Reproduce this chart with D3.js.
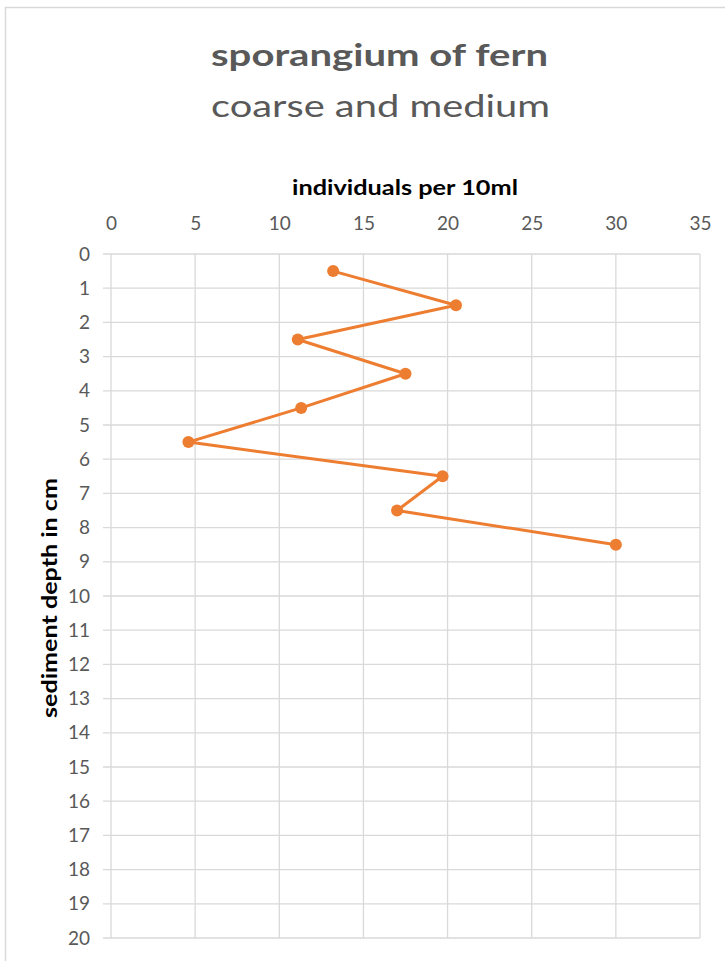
<!DOCTYPE html>
<html>
<head>
<meta charset="utf-8">
<script src="https://cdn.jsdelivr.net/npm/d3@7"></script>
<style>
body { margin: 0; background: #fff; }
svg { display: block; font-family: Lato, "Noto Sans", sans-serif; }
</style>
</head>
<body>
<svg id="chart" width="725" height="961"></svg>
<script>
// data
var depths = [0.5, 1.5, 2.5, 3.5, 4.5, 5.5, 6.5, 7.5, 8.5]
var individuals = [13.2, 20.5, 11.1, 17.5, 11.3, 4.6, 19.7, 17, 30]
var xTicks = [0, 5, 10, 15, 20, 25, 30, 35]
var yTicks = d3.range(0, 21)

var svg = d3.select("#chart")

// outer chart frame
svg.append("rect")
.attr("x", 5.5).attr("y", 7.5)
.attr("width", 740).attr("height", 970)
.attr("fill", "none")
.attr("stroke", "#d9d9d9")
.attr("stroke-width", 1.5)

var x = d3.scaleLinear().domain([0, 35]).range([111, 700])
var y = d3.scaleLinear().domain([0, 20]).range([254, 938])

// grid
svg.append("g")
.selectAll("line")
.data(xTicks)
.join("line")
.attr("x1", d => x(d)).attr("x2", d => x(d))
.attr("y1", y(0)).attr("y2", y(20))
.attr("stroke", "#d9d9d9")
.attr("stroke-width", 1.3)

svg.append("g")
.selectAll("line")
.data(yTicks)
.join("line")
.attr("x1", 103).attr("x2", x(35))
.attr("y1", d => y(d)).attr("y2", d => y(d))
.attr("stroke", "#d9d9d9")
.attr("stroke-width", 1.3)

// axes labels
var xAxis = d3.axisTop(x).tickValues(xTicks).tickSize(0).tickPadding(0)
svg.append("g")
.attr("transform", "translate(0,230)")
.call(xAxis)
.call(g => g.select(".domain").remove())
.selectAll("text")
.attr("fill", "#595959")
.style("font-size", "19px")
.style("font-family", "Lato, 'Noto Sans', sans-serif")

var yAxis = d3.axisLeft(y).tickValues(yTicks).tickSize(0).tickPadding(0)
svg.append("g")
.attr("transform", "translate(90,0)")
.call(yAxis)
.call(g => g.select(".domain").remove())
.selectAll("text")
.attr("fill", "#595959")
.style("font-size", "19px")
.style("font-family", "Lato, 'Noto Sans', sans-serif")

// titles (stretched to the widths seen in the picture)
svg.append("text")
.attr("x", 211).attr("y", 66)
.attr("fill", "#595959")
.style("font-size", "30px")
.style("font-weight", "bold")
.attr("textLength", 337)
.attr("lengthAdjust", "spacingAndGlyphs")
.text("sporangium  of fern")

svg.append("text")
.attr("x", 211).attr("y", 117)
.attr("fill", "#595959")
.style("font-size", "30px")
.attr("textLength", 339)
.attr("lengthAdjust", "spacingAndGlyphs")
.text("coarse and medium")

svg.append("text")
.attr("x", 292).attr("y", 195)
.attr("fill", "#000")
.style("font-size", "20px")
.style("font-weight", "bold")
.attr("textLength", 226)
.attr("lengthAdjust", "spacingAndGlyphs")
.text("individuals  per 10ml")

svg.append("text")
.attr("transform", "translate(57,718) rotate(-90)")
.attr("fill", "#000")
.style("font-size", "20px")
.style("font-weight", "bold")
.attr("textLength", 240)
.attr("lengthAdjust", "spacingAndGlyphs")
.text("sediment depth in cm")

// series
var pts = depths.map((d, i) => [individuals[i], d])

svg.append("path")
.datum(pts)
.attr("fill", "none")
.attr("stroke", "#ed7d31")
.attr("stroke-width", 3)
.attr("stroke-linejoin", "round")
.attr("d", d3.line().x(d => x(d[0])).y(d => y(d[1])))

svg.append("g")
.selectAll("circle")
.data(pts)
.join("circle")
.attr("cx", d => x(d[0]))
.attr("cy", d => y(d[1]))
.attr("r", 6)
.attr("fill", "#ed7d31")
</script>
</body>
</html>
